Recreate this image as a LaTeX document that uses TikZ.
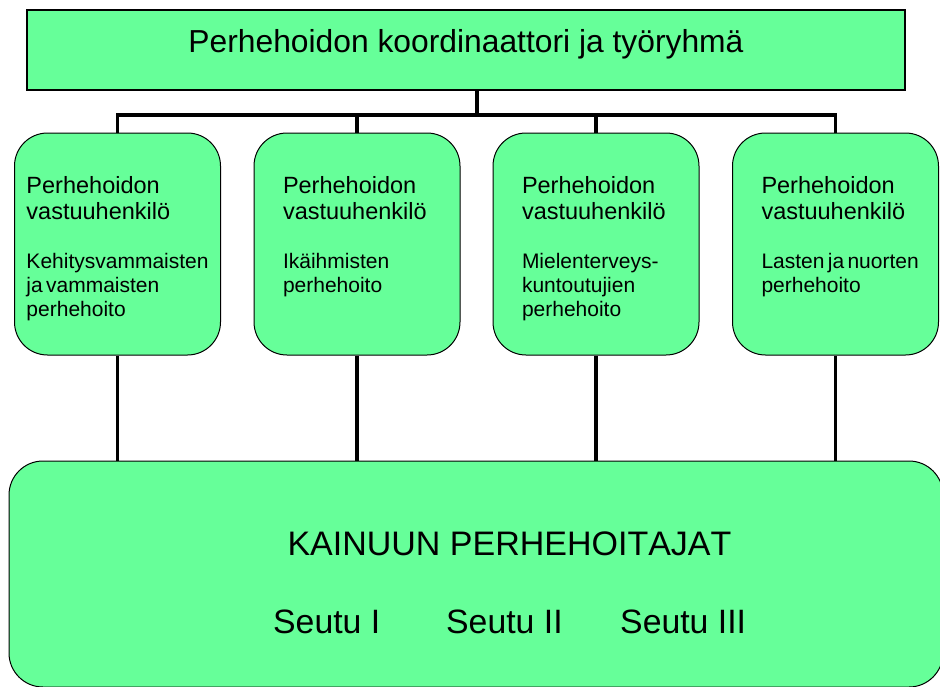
\documentclass[tikz,border=0pt]{standalone}
\usepackage{fontspec}
\setmainfont[Kerning=Off]{Liberation Sans}
\usepackage{xcolor}
\usepackage{tikz}
\definecolor{vihrea}{RGB}{102,255,153}
\setlength{\parindent}{0pt}
\hyphenpenalty=10000

\begin{document}
\begin{tikzpicture}[x=1pt, y=-1pt,
    laatikko/.style={draw=black, fill=vihrea, line width=1.5pt, inner sep=0pt},
    vastuu/.style={draw=black, fill=vihrea, line width=1pt, rounded corners=33pt,
        inner xsep=29pt, inner ysep=0pt, text width=148pt, align=left,
        text height=60pt, text depth=162pt},
    teksti/.style={inner sep=0pt, font=\fontsize{33.8}{40}\selectfont},
    yhteys/.style={line width=3.5pt}]
    \useasboundingbox (0,0) rectangle (940,686);

    \node[laatikko, minimum width=878pt, text height=42pt, text depth=38pt,
        font=\fontsize{31.8}{38}\selectfont] (koordinaattori) at (466,50)
        {Perhehoidon koordinaattori ja työryhmä};

    \node[vastuu, text width=182pt, inner xsep=12pt] (kehitys) at (117.5,244)
        {{\fontsize{23.5}{26.7}\selectfont Perhehoidon\\ vastuuhenkilö\par}\vspace{25pt}%
        {\noindent\fontsize{21}{24}\selectfont Kehitysvammaisten\\ \mbox{ja vammaisten}\\ perhehoito\par}};
    \node[vastuu] (ikaihmiset) at (357,244)
        {{\fontsize{23.5}{26.7}\selectfont Perhehoidon\\ vastuuhenkilö\par}\vspace{25pt}%
        {\noindent\fontsize{21}{24}\selectfont Ikäihmisten\\ perhehoito\par}};
    \node[vastuu] (mielenterveys) at (596,244)
        {{\fontsize{23.5}{26.7}\selectfont Perhehoidon\\ vastuuhenkilö\par}\vspace{25pt}%
        {\noindent\fontsize{21}{24}\selectfont Mielenterveys-\\ kuntoutujien\\ perhehoito\par}};
    \node[vastuu] (lapset) at (835.5,244)
        {{\fontsize{23.5}{26.7}\selectfont Perhehoidon\\ vastuuhenkilö\par}\vspace{25pt}%
        {\noindent\fontsize{21}{24}\selectfont \mbox{Lasten ja nuorten}\\ perhehoito\par}};

    \node[laatikko, line width=1pt, rounded corners=34pt, minimum width=934pt,
        minimum height=226pt] (perhehoitajat) at (476,574) {};
    \node[teksti, anchor=base, font=\fontsize{34}{40}\selectfont] (kainuu) at (509.5,555) {KAINUUN PERHEHOITAJAT};
    \node[teksti, anchor=base west] (seutu1) at (273,633) {Seutu I};
    \node[teksti, anchor=base west] (seutu2) at (446,633) {Seutu II};
    \node[teksti, anchor=base west] (seutu3) at (620,633) {Seutu III};

    % yhteydet
    \coordinate (haara) at (477,115);
    \draw[yhteys] (koordinaattori.south -| haara) -- (haara);
    \draw[yhteys] (kehitys.north) |- (lapset.north |- haara) -- (lapset.north);
    \draw[yhteys] (ikaihmiset.north |- haara) -- (ikaihmiset.north);
    \draw[yhteys] (mielenterveys.north |- haara) -- (mielenterveys.north);

    \draw[yhteys] (kehitys.south) -- (kehitys.south |- perhehoitajat.north);
    \draw[yhteys] (ikaihmiset.south) -- (ikaihmiset.south |- perhehoitajat.north);
    \draw[yhteys] (mielenterveys.south) -- (mielenterveys.south |- perhehoitajat.north);
    \draw[yhteys] (lapset.south) -- (lapset.south |- perhehoitajat.north);
\end{tikzpicture}
\end{document}
